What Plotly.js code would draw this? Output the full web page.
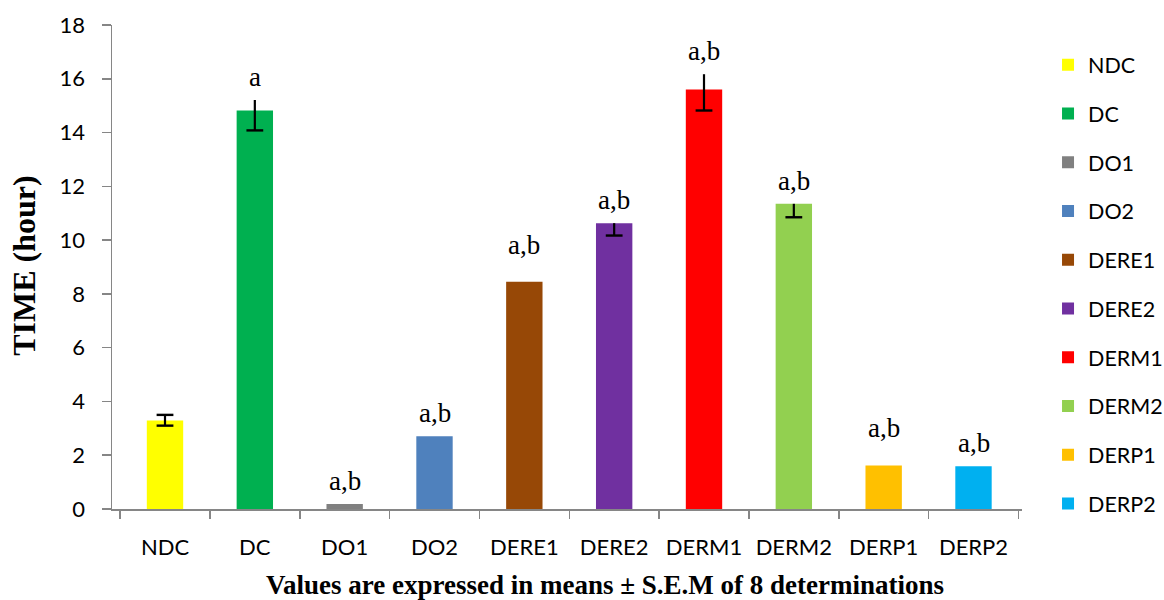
<!DOCTYPE html>
<html>
<head>
<meta charset="utf-8">
<script src="https://cdn.plot.ly/plotly-3.0.1.min.js"></script>
<style>
  html, body { margin: 0; padding: 0; background: #fff; }
  #chart { width: 1164px; height: 600px; }
</style>
</head>
<body>
<div id="chart"></div>
<script>
// Group names, in plotting order
const groups = ['NDC', 'DC', 'DO1', 'DO2', 'DERE1', 'DERE2', 'DERM1', 'DERM2', 'DERP1', 'DERP2'];

// Mean time (hour) per group
const meanHours = [3.29, 14.82, 0.19, 2.71, 8.45, 10.63, 15.60, 11.35, 1.62, 1.59];

// S.E.M. whiskers drawn above and below each mean
const semUp   = [0.21, 0.39, 0, 0, 0, 0, 0.57, 0, 0, 0];
const semDown = [0.19, 0.74, 0, 0, 0, 0.46, 0.78, 0.50, 0, 0];

// Significance letters over each bar
const sigLetters = ['', 'a', 'a,b', 'a,b', 'a,b', 'a,b', 'a,b', 'a,b', 'a,b', 'a,b'];

// Bar colours
const barColors = ['#FFFF00', '#00B050', '#808080', '#4F81BD', '#974806',
                   '#7030A0', '#FF0000', '#92D050', '#FFC000', '#00B0F0'];

// Groups whose whisker has a top cap
const topCapped = ['NDC'];
// Letters that sit a little higher than the rest
const liftedLetters = ['DERE1', 'DERP1'];

const sansFont = 'Lato, "Open Sans", sans-serif';
const serifFont = '"Liberation Serif", "Times New Roman", serif';

const traces = [];

// One bar trace per group so each gets its own legend entry
groups.forEach((g, i) => {
  traces.push({
    type: 'bar',
    name: g,
    x: [g],
    y: [meanHours[i]],
    width: 0.405,
    marker: { color: barColors[i], line: { width: 0 } },
    legendgroup: g,
    hoverinfo: 'x+y'
  });
});

// Whisker stems (no caps)
traces.push({
  type: 'scatter',
  mode: 'markers',
  x: groups,
  y: meanHours,
  marker: { size: 1, opacity: 0 },
  error_y: {
    type: 'data',
    symmetric: false,
    array: semUp,
    arrayminus: semDown,
    width: 0,
    thickness: 2.2,
    color: '#000'
  },
  showlegend: false,
  hoverinfo: 'skip'
});

// Whisker caps
const capX = [], capY = [];
groups.forEach((g, i) => {
  if (semDown[i] > 0) { capX.push(g); capY.push(meanHours[i] - semDown[i]); }
  if (topCapped.includes(g) && semUp[i] > 0) { capX.push(g); capY.push(meanHours[i] + semUp[i]); }
});
traces.push({
  type: 'scatter',
  mode: 'markers',
  x: capX,
  y: capY,
  marker: { symbol: 'line-ew', size: 12, line: { width: 2.4, color: '#000' } },
  showlegend: false,
  hoverinfo: 'skip'
});

// Significance letters above the bars / whiskers
const annotations = [];
groups.forEach((g, i) => {
  if (!sigLetters[i]) return;
  annotations.push({
    xref: 'x', yref: 'y',
    x: g,
    y: meanHours[i] + semUp[i],
    text: sigLetters[i],
    showarrow: false,
    xanchor: 'center',
    yanchor: 'bottom',
    yshift: liftedLetters.includes(g) ? 20 : 6,
    font: { family: serifFont, size: 27, color: '#000' }
  });
});

// Axis captions
annotations.push({
  xref: 'paper', yref: 'paper',
  x: 0.542, y: -0.158,
  xanchor: 'center', yanchor: 'middle',
  text: '<b>Values are expressed in means ± S.E.M of 8 determinations</b>',
  showarrow: false,
  font: { family: serifFont, size: 27, color: '#000' }
});
annotations.push({
  xref: 'paper', yref: 'paper',
  x: -0.097, y: 0.502,
  xanchor: 'center', yanchor: 'middle',
  textangle: -90,
  text: '<b>TIME (hour)</b>',
  showarrow: false,
  font: { family: serifFont, size: 32, color: '#000' }
});

const layout = {
  width: 1164,
  height: 600,
  margin: { l: 112, r: 142, t: 25, b: 91, pad: 0, autoexpand: false },
  paper_bgcolor: '#fff',
  plot_bgcolor: '#fff',
  barmode: 'overlay',
  showlegend: true,
  legend: {
    x: 1.0286, xanchor: 'left',
    y: 0.96, yanchor: 'top',
    font: { family: sansFont, size: 21.5, color: '#000' },
    tracegroupgap: 17.8,
    bgcolor: 'rgba(0,0,0,0)'
  },
  xaxis: {
    type: 'category',
    categoryorder: 'array',
    categoryarray: groups,
    showline: true,
    linecolor: '#868686',
    linewidth: 1.5,
    ticks: 'outside',
    tickson: 'boundaries',
    ticklen: 8,
    tickwidth: 1.5,
    tickcolor: '#868686',
    ticklabelstandoff: 18,
    tickfont: { family: sansFont, size: 22, color: '#000' },
    showgrid: false,
    zeroline: false
  },
  yaxis: {
    range: [0, 18],
    dtick: 2,
    showline: true,
    linecolor: '#868686',
    linewidth: 1.5,
    ticks: 'outside',
    ticklen: 9,
    tickwidth: 1.5,
    tickcolor: '#868686',
    ticklabelstandoff: 12,
    tickfont: { family: sansFont, size: 22, color: '#000' },
    showgrid: false,
    zeroline: false
  },
  annotations: annotations
};

Plotly.newPlot('chart', traces, layout, { displayModeBar: false, staticPlot: true });
</script>
</body>
</html>
